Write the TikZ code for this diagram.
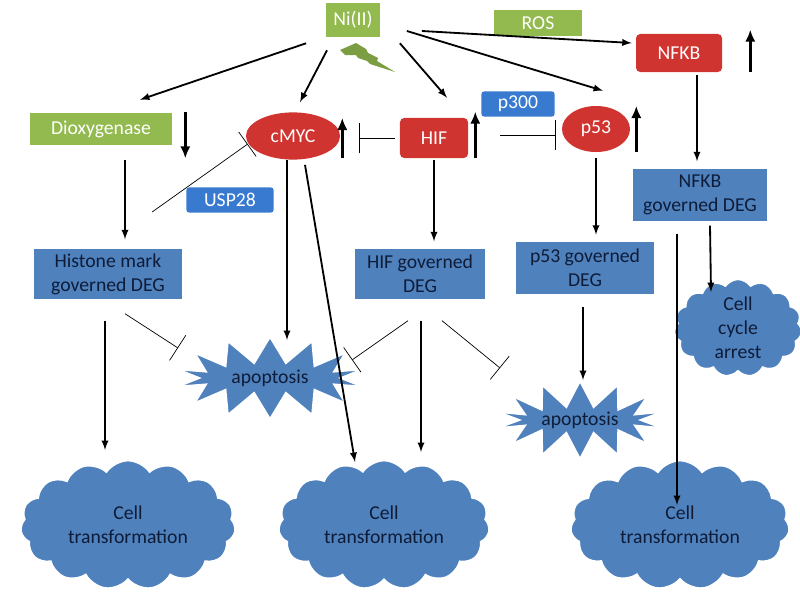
\documentclass[tikz,border=0pt]{standalone}
\usepackage{fontspec}
\setmainfont{Carlito}
\usepackage{xcolor}
\usetikzlibrary{positioning, shapes.geometric, shapes.symbols, arrows.meta}
\definecolor{leafgreen}{RGB}{146,186,78}
\definecolor{boxblue}{RGB}{79,129,189}
\definecolor{chipblue}{RGB}{55,122,208}
\definecolor{alarmred}{RGB}{208,52,48}
\definecolor{inkblue}{RGB}{14,28,56}
\tikzset{
  lbl/.style={font=\fontsize{14}{17}\selectfont, align=center, inner sep=0pt},
  gene/.style={lbl, rectangle, fill=leafgreen, text=white},
  deg/.style={lbl, rectangle, fill=boxblue, text=inkblue, draw=white, line width=1pt},
  factor/.style={lbl, rectangle, rounded corners=3pt, fill=alarmred, text=white},
  protein/.style={lbl, ellipse, fill=alarmred, text=white},
  cofactor/.style={lbl, rectangle, rounded corners=2pt, fill=chipblue, text=white},
  fate/.style={lbl, cloud, cloud puffs=15, cloud puff arc=110, aspect=1.7, fill=boxblue, text=inkblue, draw=white, line width=2pt},
  death/.style={lbl, starburst, starburst points=14, starburst point height=0.65cm, random starburst=0, fill=boxblue, text=inkblue, draw=white, line width=2pt},
  act/.style={-latex, line width=1.3pt},
  inh/.style={-{Bar[width=0.75cm]}, line width=0.5pt},
  level/.style={-{Latex[length=3mm, width=2.6mm]}, line width=2pt}
}
\begin{document}
\begin{tikzpicture}[x=0.025cm, y=-0.025cm]
\useasboundingbox (0,0) rectangle (800,598);
\node[gene, minimum width=1.33cm, minimum height=0.85cm] (ni) at (353,20) {Ni(II)};
\node[gene, minimum width=2.2cm, minimum height=0.65cm] (ros) at (538,23) {ROS};
\node[factor, minimum width=2.15cm, minimum height=0.95cm] (nfkb) at (679,53) {NFKB};
\node[gene, minimum width=3.55cm, minimum height=0.8cm] (diox) at (101,129) {Dioxygenase};
\node[protein, minimum width=2.35cm, minimum height=1.18cm] (cmyc) at (293,136) {cMYC};
\node[factor, minimum width=1.7cm, minimum height=1cm] (hif) at (434,138) {HIF};
\node[cofactor, minimum width=1.83cm, minimum height=0.63cm] (ptre) at (518,104) {p300};
\node[protein, minimum width=1.7cm, minimum height=1.15cm] (p53) at (596,129) {p53};
\node[cofactor, minimum width=2.18cm, minimum height=0.63cm] (usp) at (230,200) {USP28};
\node[deg, minimum width=3.75cm, minimum height=1.3cm] (hdeg) at (108,274) {Histone mark\\governed DEG};
\node[deg, minimum width=3.28cm, minimum height=1.3cm] (hifdeg) at (420,274) {HIF governed\\DEG};
\node[deg, minimum width=3.48cm, minimum height=1.33cm] (pdeg) at (585,268) {p53 governed\\DEG};
\node[deg, minimum width=3.4cm, minimum height=1.35cm] (ndeg) at (700,195) {NFKB\\governed DEG};
\node[fate, aspect=1.4, minimum width=3.05cm, minimum height=2.15cm] (arrest) at (738,328) {Cell\\cycle\\arrest};
\node[death, minimum width=4.9cm, minimum height=2.1cm] (apoL) at (270,378) {apoptosis};
\node[death, minimum width=4.4cm, minimum height=2cm] (apoR) at (580,420) {apoptosis};
\node[fate, minimum width=5.4cm, minimum height=3.25cm] (ctL) at (128,525) {Cell\\transformation};
\node[fate, minimum width=5.3cm, minimum height=3.25cm] (ctM) at (384,525) {Cell\\transformation};
\node[fate, minimum width=5.5cm, minimum height=3.25cm] (ctR) at (680,525) {Cell\\transformation};
\fill[leafgreen!85!black] (340,50) -- (356,43) -- (366,49) -- (368,53) -- (378,58) -- (377,61) -- (395,72) -- (370,64) -- (367,61) -- (358,58) -- (356,55) -- (345,55) -- cycle;
\draw[act] ([shift={(-20,6)}]ni.south west) -- ([shift={(39,-13)}]diox.north);
\draw[act] ([shift={(-26,13)}]ni.south) -- ([shift={(7,-10)}]cmyc.north);
\draw[act] ([shift={(20,6)}]ni.south east) -- ([shift={(13,-20)}]hif.north);
\draw[act] ([shift={(27,11)}]ni.east) -- ([shift={(7,-15)}]p53.north);
\draw[act] ([shift={(42,11)}]ni.east) -- ([shift={(-4,-10)}]nfkb.west);
\draw[act] ([shift={(18,3)}]nfkb.south) -- ([shift={(-3,-6)}]ndeg.north);
\draw[level] ([shift={(28,0)}]nfkb.south east) -- ([shift={(28,-4)}]nfkb.north east);
\draw[level] ([shift={(13,-1)}]diox.north east) -- ([shift={(13,13)}]diox.south east);
\draw[level] ([shift={(2,22)}]cmyc.east) -- ([shift={(2,-18)}]cmyc.east);
\draw[level] ([shift={(7,0)}]hif.south east) -- ([shift={(7,-6)}]hif.north east);
\draw[level] ([shift={(6,23)}]p53.east) -- ([shift={(6,-23)}]p53.east);
\draw[inh] ([shift={(-5,0)}]hif.west) -- ([shift={(19,2)}]cmyc.east);
\draw[inh] ([shift={(32,-3)}]hif.east) -- ([shift={(-6,6)}]p53.west);
\draw[inh] ([shift={(-34,12)}]usp.west) -- ([shift={(2,8)}]cmyc.west);
\draw[act] ([shift={(24,15)}]diox.south) -- ([shift={(17,-8)}]hdeg.north);
\draw[act] ([shift={(-6,0)}]cmyc.south) -- ([shift={(17,-38)}]apoL.center);
\draw[act] ([shift={(12,5)}]cmyc.south) -- ([shift={(-29,-63)}]ctM.center);
\draw[act] ([shift={(0,2)}]hif.south) -- ([shift={(14,-6)}]hifdeg.north);
\draw[act] ([shift={(0,6)}]p53.south) -- ([shift={(11,-6)}]pdeg.north);
\draw[act] ([shift={(10,3)}]ndeg.south) -- ([shift={(-27,-36)}]arrest.center);
\draw[act] ([shift={(-23,11)}]ndeg.south) -- ([shift={(-3,-20)}]ctR.center);
\draw[act] ([shift={(-3,20)}]hdeg.south) -- ([shift={(-23,-75)}]ctL.center);
\draw[inh] ([shift={(17,13)}]hdeg.south) -- ([shift={(-92,-30)}]apoL.center);
\draw[inh] ([shift={(-12,20)}]hifdeg.south) -- ([shift={(82,-18)}]apoL.center);
\draw[inh] ([shift={(22,20)}]hifdeg.south) -- ([shift={(-80,-52)}]apoR.center);
\draw[act] ([shift={(1,20)}]hifdeg.south) -- ([shift={(37,-73)}]ctM.center);
\draw[act] ([shift={(-2,12)}]pdeg.south) -- ([shift={(3,-40)}]apoR.center);
\end{tikzpicture}
\end{document}
